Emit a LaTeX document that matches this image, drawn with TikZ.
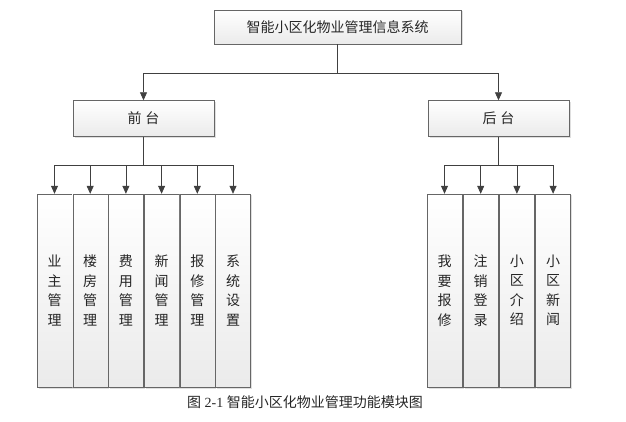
\documentclass[tikz,border=0pt]{standalone}
\usepackage{fontspec}
\setmainfont{Liberation Serif}
\newfontfamily\cjk{Noto Sans CJK SC}
\usetikzlibrary{arrows.meta,shadows}
\tikzset{
  box/.style={draw=black!60, top color=white, bottom color=black!8, text=black!85,
    font=\cjk\fontsize{14}{19.5}\selectfont, inner sep=0pt, align=center,
    drop shadow={shadow xshift=1.5pt, shadow yshift=-1.5pt, opacity=0.25}},
  widebox/.style={box, minimum height=36pt},
  tallbox/.style={box, minimum width=35pt, minimum height=193pt},
  link/.style={draw=black!75, line width=0.8pt},
  arrow/.style={link, -{Triangle[width=7pt,length=8pt]}}
}
\begin{document}
\begin{tikzpicture}[x=1pt,y=-1pt]
  \useasboundingbox (0,0) rectangle (626,422);
  % top level
  \node[widebox, minimum width=247pt, minimum height=34pt] (sys) at (337.5,27) {智能小区化物业管理信息系统};
  \node[widebox, minimum width=141pt] (front) at (143.5,118.5) {前\hspace{4pt}台};
  \node[widebox, minimum width=141pt] (back) at (498.5,118.5) {后\hspace{4pt}台};
  \coordinate (hub) at (337.5,73);
  \draw[link] (sys.south) -- (hub);
  \draw[arrow] (hub) -| (front.north);
  \draw[arrow] (hub) -| (back.north);
  % front modules
  \coordinate (fbus) at (143.5,165);
  \draw[link] (front.south) -- (fbus);
  \foreach \name [count=\i from 0] in {业\\主\\管\\理, 楼\\房\\管\\理, 费\\用\\管\\理,
      新\\闻\\管\\理, 报\\修\\管\\理, 系\\统\\设\\置} {
    \node[tallbox] (f\i) at (54.5+35.7*\i,290.5) {\name};
    \draw[arrow] (fbus) -| (f\i.north);
  }
  % back modules
  \coordinate (bbus) at (498.5,165);
  \draw[link] (back.south) -- (bbus);
  \foreach \name [count=\i from 0] in {我\\要\\报\\修, 注\\销\\登\\录, 小\\区\\介\\绍, 小\\区\\新\\闻} {
    \node[tallbox] (b\i) at (444.5+36.2*\i,290.5) {\name};
    \draw[arrow] (bbus) -| (b\i.north);
  }
  % caption
  \node[font=\fontsize{14}{16}\selectfont, text=black!85] (cap) at (305,402) {{\cjk 图} 2-1 {\cjk 智能小区化物业管理功能模块图}};
\end{tikzpicture}
\end{document}
